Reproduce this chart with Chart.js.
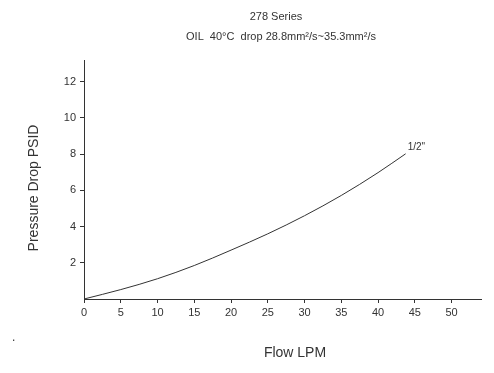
<!DOCTYPE html>
<html>
<head>
<meta charset="utf-8">
<script src="https://cdn.jsdelivr.net/npm/chart.js@4"></script>
<style>
  html, body { margin: 0; padding: 0; background: #fff; }
  #wrap { width: 494px; height: 373px; position: relative; }
</style>
</head>
<body>
<div id="wrap"><canvas id="pdChart"></canvas></div>
<script>
const flow = [0, 5, 10, 15, 20, 25, 30, 35, 40, 43.75];
const pressure = [0, 0.52, 1.12, 1.85, 2.7, 3.6, 4.6, 5.72, 6.98, 8.02];
const xTicks = [0, 5, 10, 15, 20, 25, 30, 35, 40, 45, 50];
const yTicks = [2, 4, 6, 8, 10, 12];
const seriesLabel = '1/2"';
const titleLines = ["278 Series", "OIL  40\u00B0C  drop 28.8mm\u00B2/s~35.3mm\u00B2/s"];

const ink = "#333";

// text that sits outside the plot (titles, axis names, curve label)
const textPlugin = {
  id: "chartText",
  afterDraw(chart) {
    const c = chart.ctx;
    const xs = chart.scales.x, ys = chart.scales.y;
    c.save();
    c.fillStyle = ink;
    c.textAlign = "center";
    c.textBaseline = "middle";
    c.font = "11px 'Liberation Sans', Arial, sans-serif";
    c.fillText(titleLines[0], 276, 17);
    c.fillText(titleLines[1], 281, 37);

    c.font = "14px 'Liberation Sans', Arial, sans-serif";
    c.fillText("Flow LPM", 295, 353);
    c.save();
    c.translate(34, 188);
    c.rotate(-Math.PI / 2);
    c.fillText("Pressure Drop PSID", 0, 0);
    c.restore();

    c.font = "10px 'Liberation Sans', Arial, sans-serif";
    c.textAlign = "left";
    const last = flow.length - 1;
    c.fillText(seriesLabel, xs.getPixelForValue(flow[last]) + 2, ys.getPixelForValue(pressure[last]) - 7);

    c.font = "12px 'Liberation Sans', Arial, sans-serif";
    c.fillText(".", 12, 338);
    c.restore();
  }
};

new Chart(document.getElementById("pdChart"), {
  type: "line",
  data: {
    datasets: [{
      label: seriesLabel,
      data: flow.map((f, i) => ({ x: f, y: pressure[i] })),
      borderColor: ink,
      borderWidth: 1,
      pointRadius: 0,
      fill: false,
      cubicInterpolationMode: "monotone"
    }]
  },
  options: {
    responsive: true,
    maintainAspectRatio: false,
    animation: false,
    layout: { padding: { top: 60, right: 13, bottom: 54, left: 0 } },
    plugins: { legend: { display: false }, tooltip: { enabled: false } },
    scales: {
      x: {
        type: "linear",
        min: 0,
        max: 54,
        afterBuildTicks: (s) => { s.ticks = xTicks.map(v => ({ value: v })); },
        afterFit: (s) => { s.height = 20; },
        border: { color: ink, width: 1 },
        grid: { drawOnChartArea: false, tickLength: 4, tickColor: ink },
        ticks: { color: ink, padding: 3, maxRotation: 0, font: { size: 11, family: "'Liberation Sans', Arial, sans-serif" } }
      },
      y: {
        type: "linear",
        min: 0,
        max: 13.2,
        afterBuildTicks: (s) => { s.ticks = yTicks.map(v => ({ value: v })); },
        afterFit: (s) => { s.width = 84; },
        border: { color: ink, width: 1 },
        grid: { drawOnChartArea: false, tickLength: 4, tickColor: ink },
        ticks: { color: ink, padding: 4, font: { size: 11, family: "'Liberation Sans', Arial, sans-serif" } }
      }
    }
  },
  plugins: [textPlugin]
});
</script>
</body>
</html>
